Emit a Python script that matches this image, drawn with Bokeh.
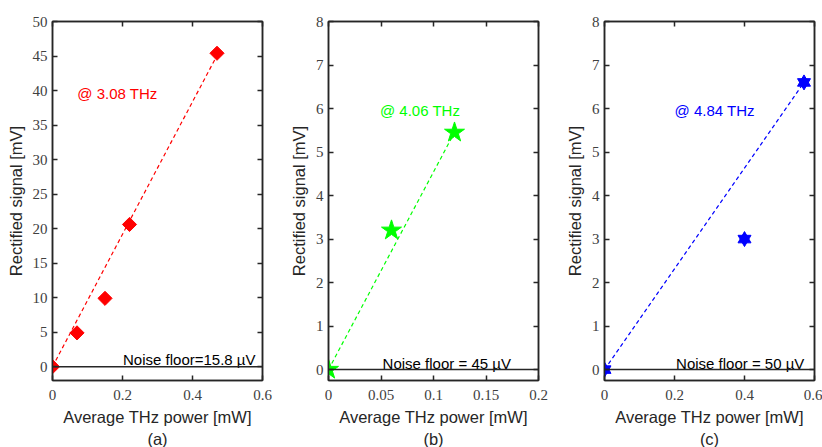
import numpy as np
from bokeh.plotting import figure
from bokeh.layouts import row
from bokeh.models import Range1d, FixedTicker, LinearAxis, Span
from bokeh.core.properties import value
from bokeh.embed import file_html
from bokeh.resources import INLINE

# ---- data ----
# Panel (a) @ 3.08 THz
a_power = [0.0, 0.07, 0.15, 0.22, 0.47]
a_signal = [0.0, 4.9, 9.9, 20.6, 45.4]
a_fit_x = [0.0, 0.465]
a_fit_y = [0.0, 44.6]
a_xticks = [0, 0.2, 0.4, 0.6]
a_yticks = [0, 5, 10, 15, 20, 25, 30, 35, 40, 45, 50]

# Panel (b) @ 4.06 THz
b_power = [0.0, 0.06, 0.12]
b_signal = [0.0, 3.2, 5.45]
b_fit_x = [0.0, 0.12]
b_fit_y = [0.0, 5.45]
b_xticks = [0, 0.05, 0.1, 0.15, 0.2]
b_yticks = [0, 1, 2, 3, 4, 5, 6, 7, 8]

# Panel (c) @ 4.84 THz
c_power = [0.0, 0.4, 0.57]
c_signal = [0.0, 3.0, 6.6]
c_fit_x = [0.0, 0.57]
c_fit_y = [0.0, 6.6]
c_xticks = [0, 0.2, 0.4, 0.6]
c_yticks = [0, 1, 2, 3, 4, 5, 6, 7, 8]

DARK = "#262626"
SANS = "Liberation Sans"
SERIF = "serif"


def style_axis(ax, ticks, labels=True):
    ax.ticker = FixedTicker(ticks=ticks)
    ax.axis_line_color = DARK
    ax.axis_line_width = 1.5
    ax.major_tick_in = 5
    ax.major_tick_out = 0
    ax.major_tick_line_color = DARK
    ax.major_tick_line_width = 1.5
    ax.minor_tick_line_color = None
    if labels:
        ax.major_label_text_font = SERIF
        ax.major_label_text_font_size = "15px"
        ax.major_label_text_color = "#404040"
        ax.major_label_standoff = 9
        ax.axis_label_text_font = SANS
        ax.axis_label_text_font_size = "16.5px"
        ax.axis_label_text_font_style = "normal"
        ax.axis_label_text_color = DARK
        ax.axis_label_standoff = 5
    else:
        ax.major_label_text_font_size = "0px"
        ax.major_label_text_color = None
        ax.major_label_standoff = 0


def make_panel(px, py, fx, fy, xmax, ymin, ymax, xticks, yticks, color, marker,
               freq_text, freq_x, freq_y, noise_text, noise_x, noise_y, tag,
               border_right):
    p = figure(frame_width=210, frame_height=359,
               x_range=Range1d(0, xmax), y_range=Range1d(ymin, ymax),
               min_border_left=52, min_border_right=border_right,
               min_border_top=21, min_border_bottom=0,
               output_backend="svg", toolbar_location=None,
               background_fill_color="white", border_fill_color="white")
    p.xgrid.visible = False
    p.ygrid.visible = False
    p.outline_line_color = DARK
    p.outline_line_width = 1.5

    style_axis(p.xaxis[0], xticks)
    style_axis(p.yaxis[0], yticks)
    p.yaxis[0].major_label_standoff = 5
    p.yaxis[0].axis_label_standoff = 5
    p.xaxis[0].axis_label = "Average THz power [mW]\n" + tag
    p.xaxis[0].axis_label_text_line_height = 1.25
    p.yaxis[0].axis_label = "Rectified signal [mV]"

    top = LinearAxis()
    style_axis(top, xticks, labels=False)
    p.add_layout(top, "above")
    right = LinearAxis()
    style_axis(right, yticks, labels=False)
    p.add_layout(right, "right")

    # noise floor line
    p.add_layout(Span(location=0, dimension="width", line_color=DARK, line_width=1.5))

    # fit line
    p.line(fx, fy, line_color=color, line_width=1.2, line_dash="4 3")

    # markers
    if marker == "diamond":
        p.scatter(px, py, marker="square", angle=np.pi / 4, size=10,
                  fill_color=color, line_color=color)
    elif marker == "star":
        p.scatter(px, py, marker="star", size=21, fill_color=color, line_color=color)
    else:
        p.scatter(px, py, marker="triangle", size=13, fill_color=color, line_color=color)
        p.scatter(px, py, marker="inverted_triangle", size=13, fill_color=color, line_color=color)

    p.text(x=[freq_x], y=[freq_y], text=[freq_text], text_color=color,
           text_font=value(SANS), text_font_size="15px",
           text_align="left", text_baseline="middle")
    p.text(x=[noise_x], y=[noise_y], text=[noise_text], text_color="black",
           text_font=value(SANS), text_font_size="15px",
           text_align="right", text_baseline="alphabetic")
    return p


pa = make_panel(a_power, a_signal, a_fit_x, a_fit_y, 0.6, -2, 50, a_xticks, a_yticks,
                "#ff0000", "diamond", "@ 3.08 THz", 0.071, 39.6,
                "Noise floor=15.8 \u00b5V", 0.58, 1.1, "(a)", 14)
pb = make_panel(b_power, b_signal, b_fit_x, b_fit_y, 0.2, -0.25, 8, b_xticks, b_yticks,
                "#00ff00", "star", "@ 4.06 THz", 0.049, 5.95,
                "Noise floor = 45 \u00b5V", 0.1737, 0.13, "(b)", 14)
pc = make_panel(c_power, c_signal, c_fit_x, c_fit_y, 0.6, -0.25, 8, c_xticks, c_yticks,
                "#0000ff", "hexagram", "@ 4.84 THz", 0.2, 5.95,
                "Noise floor = 50 \u00b5V", 0.571, 0.13, "(c)", 8)

layout = row(pa, pb, pc)
open("out.html", "w").write(file_html(layout, INLINE))
